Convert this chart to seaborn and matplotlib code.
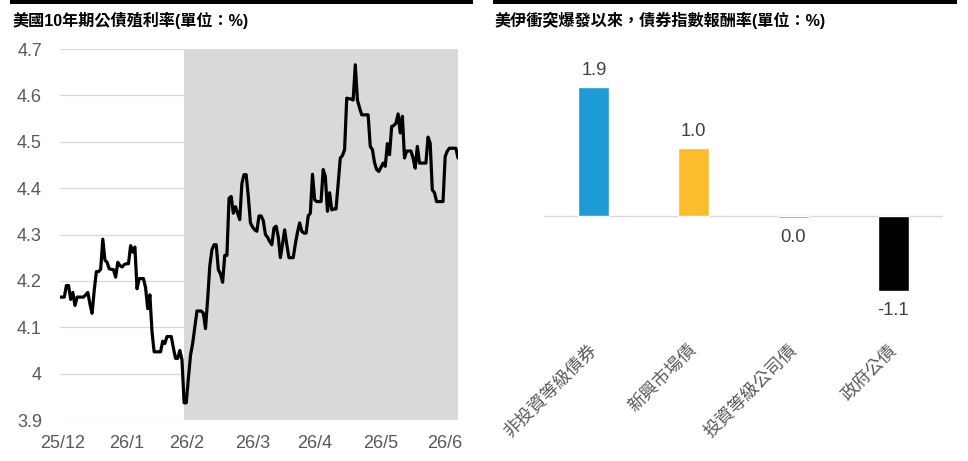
import matplotlib
matplotlib.use("Agg")
import matplotlib.pyplot as plt
import seaborn as sns
import pandas as pd
from matplotlib.patches import Rectangle

sns.set_theme(style="white")
plt.rcParams['font.family'] = ['Liberation Sans', 'Noto Sans CJK TC', 'DejaVu Sans']

# ---------------- data ----------------
left_title = "美國10年期公債殖利率(單位：%)"
right_title = "美伊衝突爆發以來，債券指數報酬率(單位：%)"

# daily US 10Y yield, starting 2025-12-01 (one value per calendar day)
yields = [
    4.165, 4.165, 4.165, 4.19, 4.19, 4.16, 4.175, 4.147, 4.165, 4.165,
    4.165, 4.165, 4.17, 4.175, 4.15, 4.13, 4.18, 4.22, 4.22, 4.225,
    4.29, 4.245, 4.24, 4.226, 4.225, 4.224, 4.208, 4.24, 4.233, 4.23,
    4.235, 4.237, 4.237, 4.276, 4.262, 4.273, 4.183, 4.205, 4.205, 4.205,
    4.185, 4.14, 4.17, 4.09, 4.047, 4.047, 4.047, 4.047, 4.07, 4.065,
    4.08, 4.08, 4.08, 4.055, 4.033, 4.033, 4.05, 4.03, 3.937, 3.937,
    3.99, 4.04, 4.065, 4.10, 4.135, 4.135, 4.135, 4.13, 4.097, 4.16,
    4.232, 4.267, 4.278, 4.278, 4.224, 4.215, 4.197, 4.255, 4.255, 4.378,
    4.382, 4.346, 4.36, 4.346, 4.332, 4.41, 4.429, 4.429, 4.382, 4.325,
    4.316, 4.31, 4.307, 4.34, 4.34, 4.33, 4.30, 4.294, 4.285, 4.278,
    4.314, 4.318, 4.295, 4.25, 4.28, 4.31, 4.278, 4.25, 4.25, 4.25,
    4.28, 4.305, 4.325, 4.307, 4.303, 4.303, 4.34, 4.346, 4.43, 4.375,
    4.371, 4.371, 4.371, 4.44, 4.425, 4.35, 4.39, 4.353, 4.355, 4.355,
    4.41, 4.465, 4.47, 4.483, 4.594, 4.593, 4.592, 4.59, 4.666, 4.59,
    4.573, 4.558, 4.558, 4.558, 4.558, 4.49, 4.483, 4.455, 4.44, 4.436,
    4.445, 4.454, 4.447, 4.496, 4.472, 4.533, 4.535, 4.54, 4.56, 4.519,
    4.555, 4.465, 4.48, 4.48, 4.48, 4.465, 4.443, 4.49, 4.454, 4.454,
    4.454, 4.454, 4.51, 4.497, 4.396, 4.39, 4.371, 4.371, 4.371, 4.371,
    4.468, 4.48, 4.486, 4.486, 4.486, 4.486, 4.465,
]
days = list(range(len(yields)))
shade_start_day = 58
x_tick_labels = ["25/12", "26/1", "26/2", "26/3", "26/4", "26/5", "26/6"]
x_tick_days = [1, 31, 59, 90, 119, 150, 180]
y_ticks = [3.9, 4.0, 4.1, 4.2, 4.3, 4.4, 4.5, 4.6, 4.7]
y_tick_labels = ["3.9", "4", "4.1", "4.2", "4.3", "4.4", "4.5", "4.6", "4.7"]

categories = ["非投資等級債券", "新興市場債", "投資等級公司債", "政府公債"]
returns = [1.9, 1.0, -0.03, -1.1]
return_labels = ["1.9", "1.0", "0.0", "-1.1"]
bar_colors = ["#1e9ad6", "#fbbd2c", "#7f7f7f", "#000000"]

# ---------------- figure ----------------
W, H = 968, 461
fig = plt.figure(figsize=(W / 100, H / 100), dpi=100)
fig.patch.set_facecolor("white")

def fx(px):
    return px / W

def fy(py):
    return 1 - py / H

# top black rules
fig.add_artist(Rectangle((fx(10), fy(4)), fx(463), 4 / H, transform=fig.transFigure,
                         color="black", lw=0))
fig.add_artist(Rectangle((fx(493), fy(4)), fx(464), 4 / H, transform=fig.transFigure,
                         color="black", lw=0))

title_kw = dict(fontsize=11.6, fontweight="bold", color="black", va="center", ha="left",
                family=['Liberation Sans', 'Noto Sans CJK TC'])
fig.text(fx(12), fy(20), left_title, **title_kw)
fig.text(fx(494), fy(20), right_title, **title_kw)

gray_txt = "#595959"

# ---------------- left: line chart ----------------
ax1 = fig.add_axes([fx(60), fy(420), fx(398), 371 / H])
ax1.set_facecolor("white")
for yt in y_ticks:
    ax1.axhline(yt, color="#d9d9d9", lw=0.9, zorder=0)
ax1.axvspan(shade_start_day, days[-1], color="#d9d9d9", lw=0, zorder=1)
df = pd.DataFrame({"day": days, "yield": yields})
sns.lineplot(data=df, x="day", y="yield", ax=ax1, color="black", lw=2.3, zorder=3)
for line in ax1.get_lines():
    line.set_solid_joinstyle("round")
ax1.set_xlim(days[0], days[-1])
ax1.set_ylim(3.9, 4.7)
ax1.set_xticks(x_tick_days)
ax1.set_xticklabels(x_tick_labels)
ax1.set_yticks(y_ticks)
ax1.set_yticklabels(y_tick_labels)
ax1.set_xlabel("")
ax1.set_ylabel("")
ax1.tick_params(axis="both", length=0, labelsize=13, labelcolor=gray_txt)
ax1.tick_params(axis="y", pad=13)
ax1.tick_params(axis="x", pad=11)
for s in ax1.spines.values():
    s.set_visible(False)
ax1.grid(False)

# ---------------- right: bar chart ----------------
ax2 = fig.add_axes([fx(544), fy(335), fx(399), 286 / H])
ax2.set_facecolor("white")
bdf = pd.DataFrame({"cat": categories, "ret": returns})
sns.barplot(data=bdf, x="cat", y="ret", hue="cat", palette=bar_colors, legend=False,
            width=0.31, ax=ax2, saturation=1, zorder=3)
ax2.axhline(0, color="#d9d9d9", lw=1.0, zorder=2)
ax2.set_ylim(-1.75, 2.46)
ax2.set_xlim(-0.5, len(categories) - 0.5)
for cont, lab, val in zip(ax2.containers, return_labels, returns):
    ax2.bar_label(cont, labels=[lab], padding=6 if val >= 0 else 8,
                  fontsize=13.2, color="#404040")
ax2.set_xlabel("")
ax2.set_ylabel("")
ax2.set_yticks([])
ax2.tick_params(axis="x", length=0, pad=9)
for lbl in ax2.get_xticklabels():
    lbl.set_rotation(45)
    lbl.set_ha("right")
    lbl.set_va("center")
    lbl.set_rotation_mode("anchor")
    lbl.set_fontsize(12.7)
    lbl.set_color(gray_txt)
    lbl.set_family(['Noto Sans CJK TC', 'Liberation Sans'])
    lbl.set_fontweight("light")
for s in ax2.spines.values():
    s.set_visible(False)
ax2.grid(False)

fig.savefig("out.png", dpi=100, facecolor="white")
